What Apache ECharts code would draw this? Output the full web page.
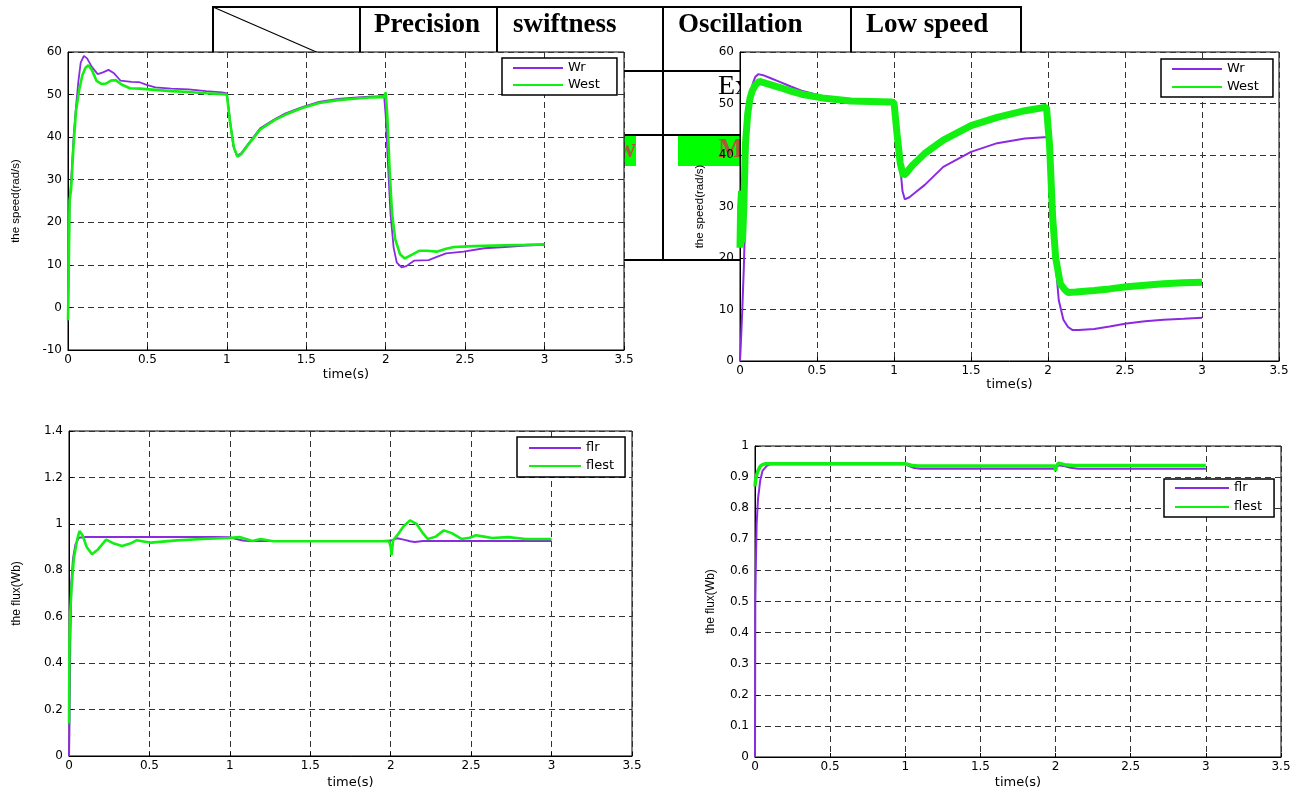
<!DOCTYPE html>
<html>
<head>
<meta charset="utf-8">
<script src="https://cdn.jsdelivr.net/npm/echarts@6/dist/echarts.min.js"></script>
<style>
html,body{margin:0;padding:0;background:#fff;}
#chart{width:1305px;height:793px;}
</style>
</head>
<body>
<div id="chart"></div>
<script>
// ---------------- DATA ----------------
// Top-left: speed, no load change (Wr vs West)
var tlWrT   = [0,0.005,0.01,0.02,0.035,0.05,0.065,0.08,0.1,0.12,0.15,0.187,0.22,0.255,0.29,0.33,0.4,0.45,0.5,0.55,0.65,0.76,0.87,0.97,1.0,1.02,1.04,1.063,1.09,1.13,1.21,1.3,1.37,1.47,1.58,1.7,1.8,1.9,1.99,2.0,2.015,2.03,2.05,2.07,2.1,2.13,2.18,2.27,2.33,2.38,2.49,2.62,2.75,2.88,3.0];
var tlWr    = [-3,10,25,30,40,47,53,57.5,59.1,58.5,56.5,54.8,55.2,55.8,55,53.3,53,52.9,52.2,51.7,51.4,51.2,50.8,50.5,50.3,44,38,35.6,36.2,38.2,42.1,44.2,45.6,47,48.3,49,49.3,49.5,49.6,45,33,22,14,10.5,9.4,9.7,11,11.1,12,12.7,13.1,13.9,14.2,14.5,14.7];
var tlWestT = [0,0.005,0.01,0.02,0.035,0.05,0.07,0.09,0.11,0.128,0.15,0.18,0.21,0.24,0.27,0.3,0.34,0.39,0.45,0.55,0.65,0.76,0.87,0.97,1.0,1.02,1.045,1.068,1.09,1.13,1.21,1.3,1.37,1.47,1.58,1.7,1.8,1.9,1.99,2.0,2.01,2.025,2.04,2.06,2.09,2.12,2.16,2.21,2.26,2.32,2.38,2.43,2.56,2.75,2.88,3.0];
var tlWest  = [-3,10,25,28,38,46,51,54.5,56.3,56.9,55.8,53.2,52.5,52.6,53.3,53.4,52.3,51.5,51.4,51.1,50.8,50.6,50.3,50.1,50,43.5,37.5,35.4,36,38,41.8,44,45.3,46.8,48,48.7,49,49.3,49.4,50.5,45,32,22,16,12.5,11.5,12.3,13.3,13.3,13.1,13.8,14.2,14.4,14.6,14.7,14.8];

// Top-right: speed, low-speed test (Wr vs West)
var trWrT   = [0,0.005,0.015,0.025,0.04,0.054,0.07,0.083,0.1,0.118,0.15,0.2,0.258,0.33,0.4,0.55,0.72,0.85,0.99,1.0,1.02,1.04,1.055,1.07,1.1,1.15,1.2,1.32,1.5,1.67,1.85,2.0,2.01,2.025,2.04,2.055,2.07,2.1,2.13,2.16,2.2,2.3,2.4,2.51,2.63,2.75,2.88,3.0];
var trWr    = [0,3,10,18.3,35,47.4,51.5,53.9,55.2,55.7,55.5,54.9,54.2,53.3,52.5,51.3,50.7,50.4,50.2,50.1,45,38,33,31.4,31.8,33,34.2,37.7,40.6,42.3,43.2,43.5,38,30,24.8,17,11.8,8.0,6.6,6.0,6.0,6.2,6.7,7.3,7.7,8.0,8.2,8.4];
var trWestT = [0,0.004,0.01,0.016,0.025,0.035,0.05,0.065,0.08,0.1,0.126,0.17,0.26,0.33,0.4,0.55,0.72,0.85,0.98,1.0,1.02,1.04,1.06,1.08,1.12,1.2,1.32,1.5,1.67,1.85,1.99,2.0,2.01,2.03,2.05,2.08,2.11,2.13,2.18,2.3,2.4,2.51,2.63,2.75,2.88,3.0];
var trWest  = [22,30,33,23,30,42,48,51,52.5,53.6,54.3,53.9,53.1,52.4,51.8,51.0,50.5,50.4,50.3,50.2,44,38.5,36,36.5,38,40.3,42.9,45.7,47.3,48.6,49.3,49.5,42,28,20,15,13.8,13.3,13.4,13.7,14.0,14.4,14.7,15.0,15.2,15.3];

// Bottom-left: flux (flr vs flest)
var blFlrT   = [0,0.003,0.008,0.015,0.025,0.04,0.06,0.1,0.5,0.9,1.0,1.04,1.08,1.12,1.5,1.95,2.0,2.04,2.08,2.12,2.15,2.2,2.5,3.0];
var blFlr    = [0,0.14,0.5,0.75,0.85,0.91,0.94,0.943,0.943,0.943,0.942,0.935,0.928,0.926,0.926,0.926,0.928,0.938,0.932,0.925,0.922,0.926,0.926,0.926];
var blFlestT = [0,0.003,0.008,0.015,0.03,0.05,0.065,0.085,0.11,0.143,0.18,0.231,0.28,0.33,0.38,0.42,0.51,0.67,0.83,0.99,1.06,1.1,1.14,1.19,1.27,1.5,1.99,2.0,2.005,2.015,2.04,2.08,2.12,2.16,2.2,2.23,2.28,2.33,2.38,2.44,2.49,2.53,2.58,2.63,2.73,2.84,3.0];
var blFlest  = [0.14,0.48,0.62,0.72,0.85,0.93,0.969,0.95,0.9,0.869,0.89,0.932,0.915,0.905,0.915,0.929,0.919,0.929,0.935,0.939,0.943,0.935,0.926,0.935,0.925,0.925,0.925,0.9,0.864,0.93,0.95,0.99,1.015,1.0,0.96,0.935,0.945,0.972,0.96,0.935,0.94,0.951,0.945,0.939,0.943,0.935,0.935];

// Bottom-right: flux, low-speed test (flr vs flest)
var brFlrT   = [0,0.002,0.005,0.011,0.02,0.035,0.05,0.078,0.1,0.5,1.0,1.03,1.06,1.1,1.5,2.0,2.02,2.05,2.1,2.15,2.5,3.0];
var brFlr    = [0,0.5,0.6,0.75,0.83,0.89,0.92,0.936,0.941,0.941,0.941,0.935,0.929,0.927,0.927,0.927,0.938,0.936,0.93,0.927,0.927,0.927];
var brFlestT = [0,0.004,0.01,0.02,0.035,0.05,0.07,0.5,1.0,1.04,1.08,1.5,1.995,2.0,2.005,2.02,2.06,2.12,2.5,3.0];
var brFlest  = [0.87,0.89,0.905,0.92,0.935,0.94,0.943,0.943,0.943,0.938,0.936,0.936,0.936,0.92,0.935,0.945,0.94,0.937,0.937,0.937];

// Table texts (behind the plots)
var tableHeaders = ['Precision','swiftness','Oscillation','Low speed'];
var tableCells   = ['Excellent','Low','Medium'];
// Axis texts
var xName = 'time(s)';
var speedName = 'the speed(rad/s)';
var fluxName = 'the flux(Wb)';

// ---------------- BUILD ----------------
function pts(t, v){ return t.map(function(x,i){ return [x, v[i]]; }); }

var PURPLE = '#8a2be2';
var GREEN = '#11f011';
var numFont = 'DejaVu Sans';

var grids = [
  {left:68,  top:52,  width:556, height:298},
  {left:740, top:52,  width:539, height:309},
  {left:69,  top:431, width:563, height:325},
  {left:755, top:446, width:526, height:311}
];
grids.forEach(function(g){
  g.show = true; g.backgroundColor = '#fff'; g.borderColor = '#000'; g.borderWidth = 1; g.z = 0;
  g.containLabel = false;
});

function xAx(i, gap){
  return {
    type:'value', gridIndex:i, min:0, max:3.5, interval:0.5,
    name:xName, nameLocation:'middle', nameGap:gap,
    nameTextStyle:{fontFamily:numFont, fontSize:13, color:'#000'},
    axisLine:{show:true, onZero:false, lineStyle:{color:'#000', width:1}},
    axisTick:{show:true, inside:true, length:4, lineStyle:{color:'#000'}},
    axisLabel:{fontFamily:numFont, fontSize:12, color:'#000', margin:4},
    splitLine:{show:true, lineStyle:{color:'#333', type:[6,4], width:1}}
  };
}
function yAx(i, min, max, step, name, gap, nameSize){
  return {
    type:'value', gridIndex:i, min:min, max:max, interval:step,
    name:name, nameLocation:'middle', nameGap:gap,
    nameTextStyle:{fontFamily:'Liberation Sans', fontSize:nameSize, color:'#000'},
    axisLine:{show:true, onZero:false, lineStyle:{color:'#000', width:1}},
    axisTick:{show:true, inside:true, length:4, lineStyle:{color:'#000'}},
    axisLabel:{fontFamily:numFont, fontSize:12, color:'#000', margin:6},
    splitLine:{show:true, lineStyle:{color:'#333', type:[6,4], width:1}}
  };
}

function line(name, i, data, color, width){
  return {
    type:'line', name:name, xAxisIndex:i, yAxisIndex:i, data:data,
    symbol:'none', showSymbol:false, smooth:false, animation:false,
    lineStyle:{color:color, width:width}, itemStyle:{color:color}, z:3
  };
}

function legend(names, left, top, pad, gap, iw){
  return {
    data:names, left:left, top:top, orient:'vertical',
    itemWidth:iw, itemHeight:14, itemGap:gap, padding:pad,
    backgroundColor:'#fff', borderColor:'#000', borderWidth:1.5, borderRadius:0,
    lineStyle:{width:2},
    itemStyle:{opacity:0},
    textStyle:{fontFamily:numFont, fontSize:13, color:'#000', lineHeight:14},
    selectedMode:false, z:10
  };
}

var TB = 2; // table border width
var tableGraphics = [];
var rowsY = [7, 71, 135, 260];
var colsX = [213, 360, 497, 663, 851, 1021];
// green highlighted cells
tableGraphics.push({type:'rect', shape:{x:540, y:135, width:96, height:31}, style:{fill:'#00ff00'}});
tableGraphics.push({type:'rect', shape:{x:678, y:135, width:130, height:31}, style:{fill:'#00ff00'}});
rowsY.forEach(function(y){
  tableGraphics.push({type:'line', shape:{x1:colsX[0]-1, y1:y, x2:colsX[colsX.length-1]+1, y2:y}, style:{stroke:'#000', lineWidth:TB}});
});
colsX.forEach(function(x){
  tableGraphics.push({type:'line', shape:{x1:x, y1:rowsY[0], x2:x, y2:rowsY[rowsY.length-1]}, style:{stroke:'#000', lineWidth:TB}});
});
tableGraphics.push({type:'line', shape:{x1:213, y1:7, x2:360, y2:71}, style:{stroke:'#000', lineWidth:1.2}});
var hdrX = [374, 513, 678, 866];
tableHeaders.forEach(function(s, k){
  tableGraphics.push({type:'text', x:hdrX[k], y:25, style:{text:s, fontFamily:'Liberation Serif', fontWeight:'bold', fontSize:27, fill:'#000', textAlign:'left', verticalAlign:'middle'}});
});
tableGraphics.push({type:'text', x:718, y:87, style:{text:tableCells[0], fontFamily:'Liberation Serif', fontSize:28, fill:'#000', textAlign:'left', verticalAlign:'middle'}});
tableGraphics.push({type:'text', x:636, y:150, style:{text:tableCells[1], fontFamily:'Liberation Serif', fontWeight:'bold', fontSize:27, fill:'#b5533c', textAlign:'right', verticalAlign:'middle'}});
tableGraphics.push({type:'text', x:718, y:150, style:{text:tableCells[2], fontFamily:'Liberation Serif', fontWeight:'bold', fontSize:27, fill:'#b5533c', textAlign:'left', verticalAlign:'middle'}});
tableGraphics.forEach(function(g){ g.z = -5; g.silent = true; });

var option = {
  animation:false,
  backgroundColor:'#fff',
  grid: grids,
  xAxis: [xAx(0,18), xAx(1,17), xAx(2,20), xAx(3,19)],
  yAxis: [
    yAx(0,-10,60,10,speedName,46,11.5),
    yAx(1,0,60,10,speedName,34,11.5),
    yAx(2,0,1.4,0.2,fluxName,46,12),
    yAx(3,0,1,0.1,fluxName,38,12)
  ],
  legend: [
    legend(['Wr','West'], 502, 58, [3,17,3,10], 3, 50),
    legend(['Wr','West'], 1161, 59, [3,14,3,10], 4, 50),
    legend(['flr','flest'], 517, 437, [4,11,4,11], 4, 52),
    legend(['flr','flest'], 1164, 479, [2,12,3,10], 5, 54)
  ],
  graphic: tableGraphics,
  series: [
    line('Wr', 0, pts(tlWrT, tlWr), PURPLE, 1.8),
    line('West', 0, pts(tlWestT, tlWest), GREEN, 2.6),
    line('Wr', 1, pts(trWrT, trWr), PURPLE, 2),
    line('West', 1, pts(trWestT, trWest), GREEN, 7),
    line('flr', 2, pts(blFlrT, blFlr), PURPLE, 2),
    line('flest', 2, pts(blFlestT, blFlest), GREEN, 2.6),
    line('flr', 3, pts(brFlrT, brFlr), PURPLE, 2),
    line('flest', 3, pts(brFlestT, brFlest), GREEN, 3.5)
  ]
};

var chart = echarts.init(document.getElementById('chart'), null, {renderer:'canvas', width:1305, height:793});
chart.setOption(option);
</script>
</body>
</html>
